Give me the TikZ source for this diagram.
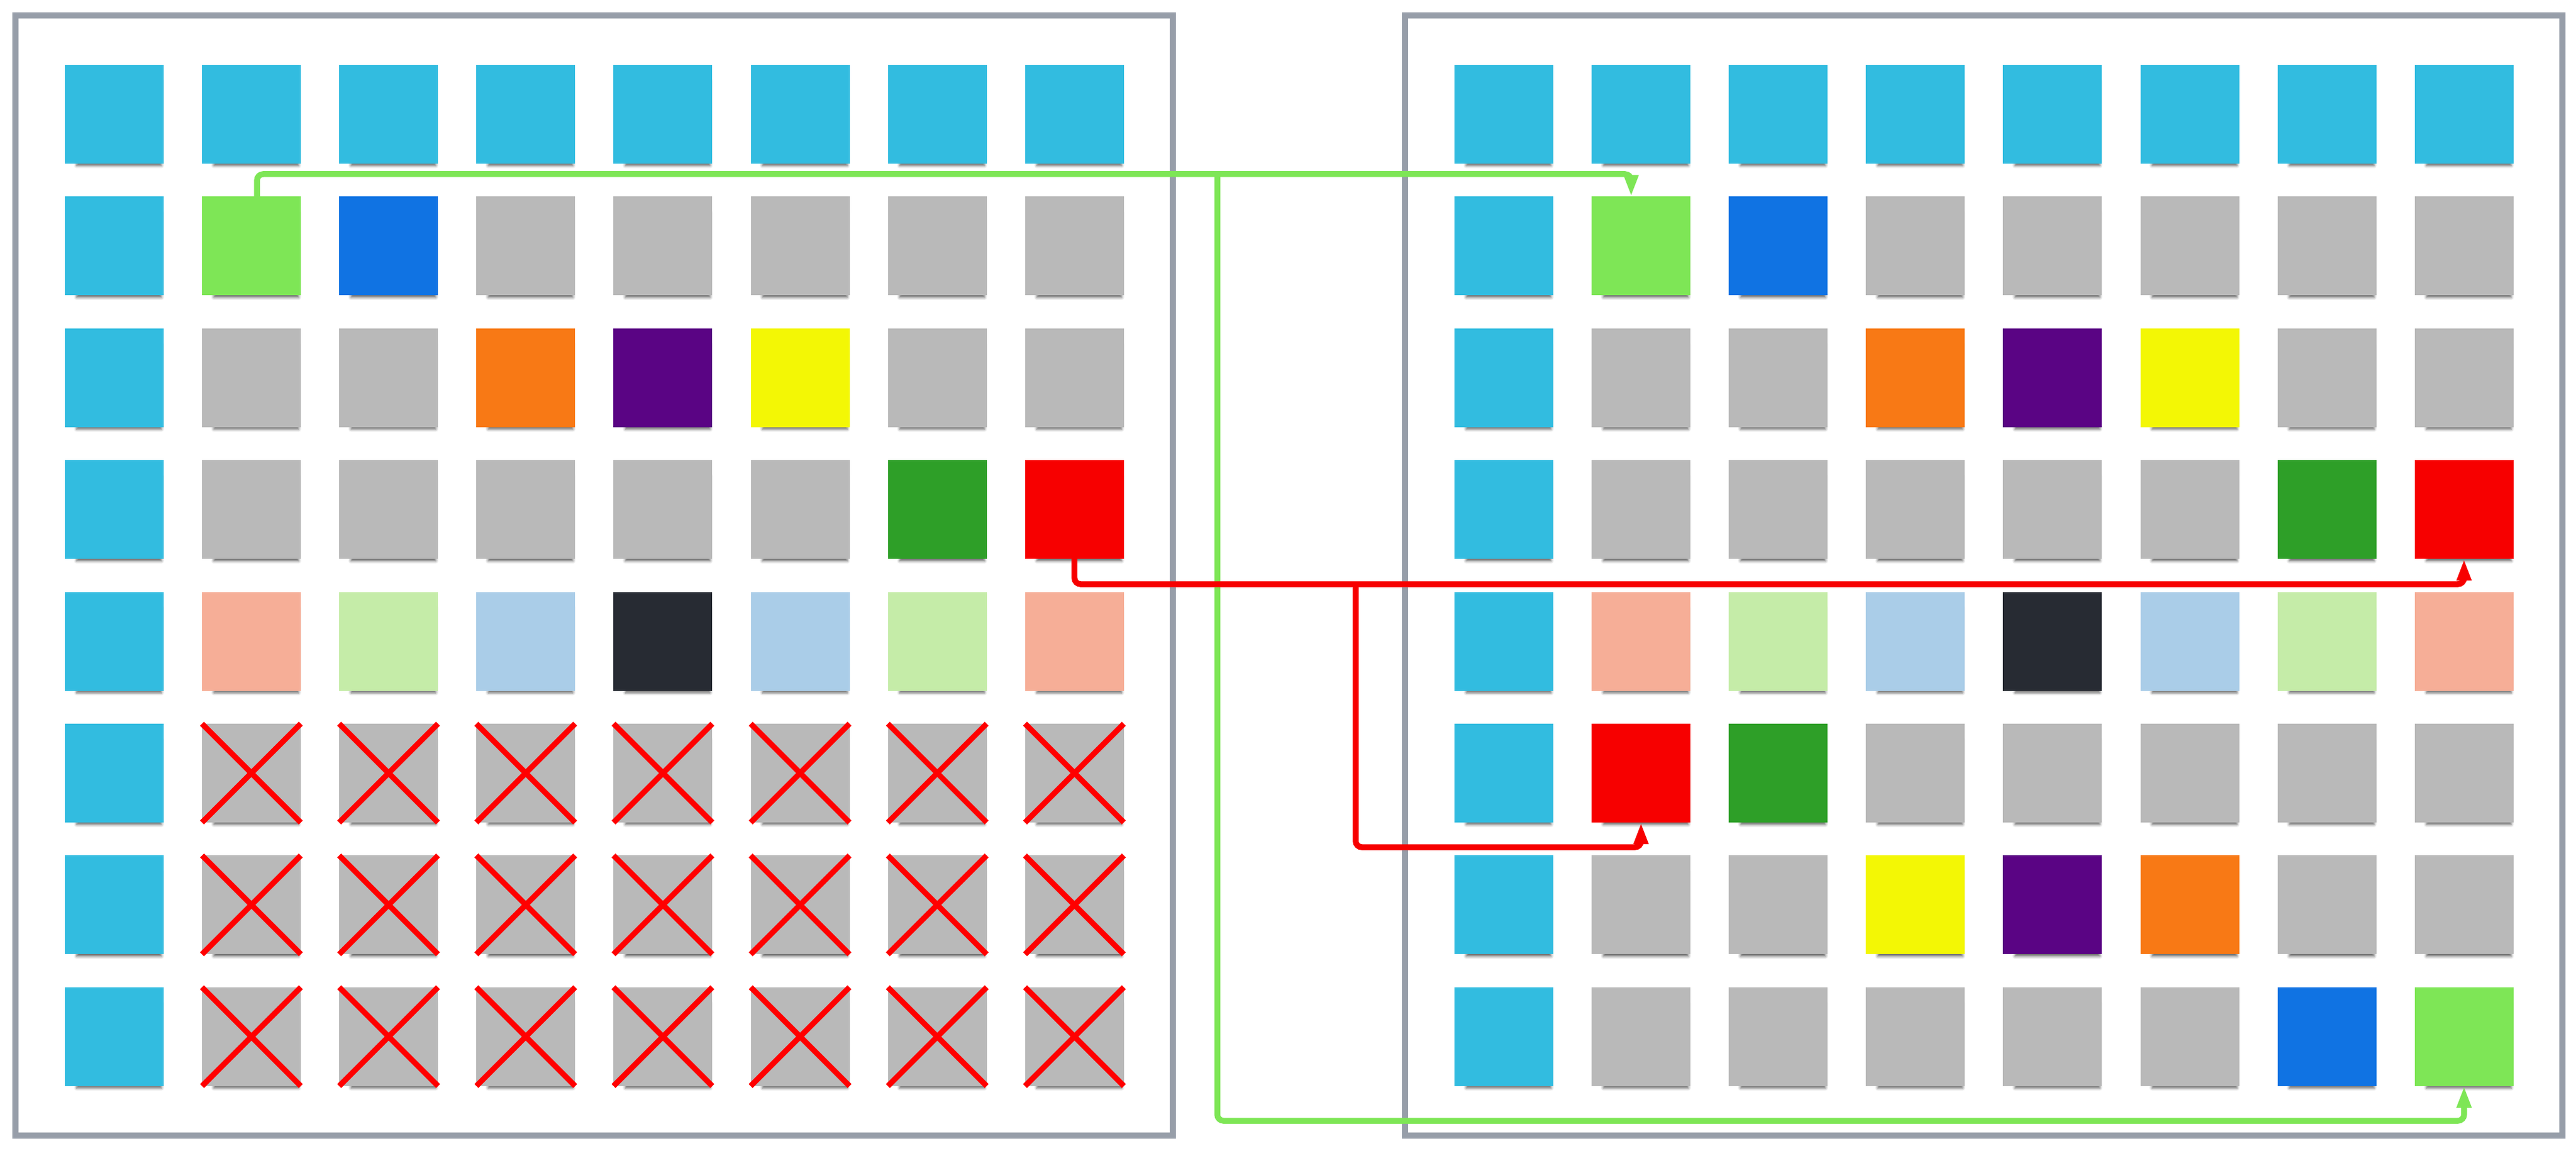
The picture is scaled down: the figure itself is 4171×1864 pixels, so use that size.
\documentclass[tikz,border=0pt]{standalone}
\usetikzlibrary{arrows.meta,shadows.blur}

\definecolor{sky}{HTML}{32BCE0}
\definecolor{lime}{HTML}{7EE656}
\definecolor{royal}{HTML}{1073E3}
\definecolor{tilegray}{HTML}{B9B9B9}
\definecolor{tangerine}{HTML}{F87915}
\definecolor{grape}{HTML}{5A0484}
\definecolor{lemon}{HTML}{F3F705}
\definecolor{forest}{HTML}{2E9F28}
\definecolor{crimson}{HTML}{F70000}
\definecolor{salmon}{HTML}{F6AE97}
\definecolor{mint}{HTML}{C5ECA8}
\definecolor{powder}{HTML}{AACDE8}
\definecolor{charcoal}{HTML}{272B33}
\definecolor{frame}{HTML}{979EA9}

\begin{document}
\begin{tikzpicture}[x=0.1mm, y=-0.1mm,
    tile/.style={rectangle, minimum size=16mm, inner sep=0pt, outer sep=0pt,
      blur shadow={shadow scale=0.86, shadow xshift=0.9mm, shadow yshift=-1.7mm, shadow blur radius=0.5mm, shadow opacity=60}},
    panel/.style={rectangle, draw=frame, line width=1mm, minimum width=187.4mm, minimum height=181.4mm},
    cross/.style={draw=red, line width=0.9mm},
    link/.style={line width=0.95mm, rounded corners=1mm, -{Triangle[length=3.5mm, width=2.2mm]}}]
  \useasboundingbox (0,0) rectangle (4171,1864);

  \node (left) [panel] at (962, 932) {};
  \node (right) [panel] at (3211.5, 932) {};

  % memory before
  \foreach \row [count=\r] in {
      {sky,sky,sky,sky,sky,sky,sky,sky},
      {sky,lime,royal,tilegray,tilegray,tilegray,tilegray,tilegray},
      {sky,tilegray,tilegray,tangerine,grape,lemon,tilegray,tilegray},
      {sky,tilegray,tilegray,tilegray,tilegray,tilegray,forest,crimson},
      {sky,salmon,mint,powder,charcoal,powder,mint,salmon},
      {sky,tilegray,tilegray,tilegray,tilegray,tilegray,tilegray,tilegray},
      {sky,tilegray,tilegray,tilegray,tilegray,tilegray,tilegray,tilegray},
      {sky,tilegray,tilegray,tilegray,tilegray,tilegray,tilegray,tilegray}} {
    \foreach \col [count=\c] in \row {
      \node (l\r\c) [tile, fill=\col] at ({185+(\c-1)*222.1}, {185+(\r-1)*213.4}) {};
    }
  }

  % memory after
  \foreach \row [count=\r] in {
      {sky,sky,sky,sky,sky,sky,sky,sky},
      {sky,lime,royal,tilegray,tilegray,tilegray,tilegray,tilegray},
      {sky,tilegray,tilegray,tangerine,grape,lemon,tilegray,tilegray},
      {sky,tilegray,tilegray,tilegray,tilegray,tilegray,forest,crimson},
      {sky,salmon,mint,powder,charcoal,powder,mint,salmon},
      {sky,crimson,forest,tilegray,tilegray,tilegray,tilegray,tilegray},
      {sky,tilegray,tilegray,lemon,grape,tangerine,tilegray,tilegray},
      {sky,tilegray,tilegray,tilegray,tilegray,tilegray,royal,lime}} {
    \foreach \col [count=\c] in \row {
      \node (r\r\c) [tile, fill=\col] at ({2435+(\c-1)*222.1}, {185+(\r-1)*213.4}) {};
    }
  }

  % freed cells
  \foreach \r in {6,7,8} {
    \foreach \c in {2,...,8} {
      \draw [cross] (l\r\c.north west) -- (l\r\c.south east)
                    (l\r\c.north east) -- (l\r\c.south west);
    }
  }

  \coordinate (gknee) at (1971, 282);
  \coordinate (gfloor) at (1971, 1815);
  \coordinate (rknee) at (2195, 946);
  \coordinate (rfloor) at (2195, 1372);

  \draw [link, draw=lime] ([xshift=0.9mm]l22.north) |- (gknee) -| ([xshift=-1.6mm]r22.north);
  \draw [link, draw=lime] (gknee) -- (gfloor) -| (r88.south);
  \draw [link, draw=crimson] (l48.south) |- (rknee) -| (r48.south);
  \draw [link, draw=crimson] (rknee) -- (rfloor) -| (r62.south);
\end{tikzpicture}
\end{document}
